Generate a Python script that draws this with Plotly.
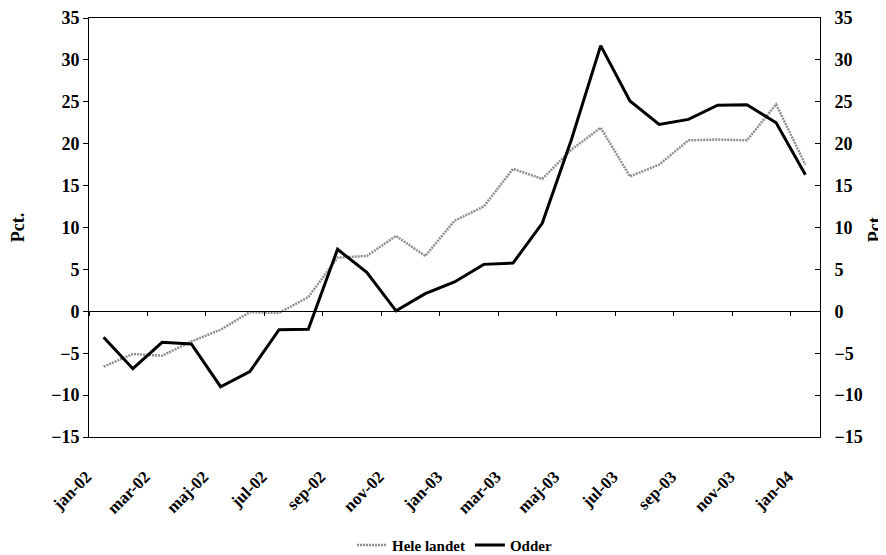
import plotly.graph_objects as go

months = ['jan-02', 'feb-02', 'mar-02', 'apr-02', 'maj-02', 'jun-02', 'jul-02', 'aug-02',
          'sep-02', 'okt-02', 'nov-02', 'dec-02', 'jan-03', 'feb-03', 'mar-03', 'apr-03',
          'maj-03', 'jun-03', 'jul-03', 'aug-03', 'sep-03', 'okt-03', 'nov-03', 'dec-03',
          'jan-04']

hele_landet = [-6.6, -5.1, -5.3, -3.6, -2.2, -0.1, -0.2, 1.7, 6.4, 6.6, 9.0, 6.6,
               10.8, 12.5, 17.0, 15.8, 19.3, 21.9, 16.1, 17.5, 20.4, 20.5, 20.4, 24.7,
               17.5]

odder = [-3.1, -6.85, -3.7, -3.9, -9.0, -7.2, -2.2, -2.15, 7.4, 4.65, 0.05, 2.1,
         3.5, 5.6, 5.75, 10.5, 20.5, 31.7, 25.1, 22.3, 22.9, 24.6, 24.65, 22.5,
         16.3]

x_ticks = months[::2]
y_range = [-15, 35]
y_dtick = 5

FONT = "Liberation Serif"

fig = go.Figure()
fig.add_trace(go.Scatter(
    x=months, y=hele_landet, name="Hele landet", mode="lines",
    line=dict(color="#8f8f8f", width=2.5, dash="2px,1px"),
    xaxis="x", yaxis="y"))
fig.add_trace(go.Scatter(
    x=months, y=odder, name="Odder", mode="lines",
    line=dict(color="#000000", width=3),
    xaxis="x2", yaxis="y2"))

zero_pos = (0 - y_range[0]) / (y_range[1] - y_range[0])
x_range = [-0.5, len(months) - 0.5]

fig.update_layout(
    width=886, height=555,
    margin=dict(l=81, r=74, t=10, b=126),
    paper_bgcolor="white", plot_bgcolor="white",
    font=dict(family=FONT, size=18, color="black"),
    showlegend=True,
    legend=dict(orientation="h", x=0.5, xanchor="center",
                yref="container", y=0.032, yanchor="middle",
                font=dict(family=FONT, size=15, color="black", weight="bold"),
                itemwidth=30, tracegroupgap=0, bgcolor="rgba(0,0,0,0)"),
    xaxis=dict(type="category", categoryorder="array", categoryarray=months,
               range=x_range, automargin=False,
               tickmode="array", tickvals=x_ticks, ticktext=x_ticks,
               tickangle=-45, ticks="", showgrid=False, zeroline=False,
               showline=True, linecolor="black", linewidth=1, mirror=True,
               ticklabelstandoff=22, ticklabelshift=-17,
               tickfont=dict(family=FONT, size=17, weight="bold"),
               anchor="y"),
    xaxis2=dict(type="category", categoryorder="array", categoryarray=months,
                overlaying="x", matches="x", anchor="free", position=zero_pos,
                automargin=False,
                showline=True, linecolor="black", linewidth=1,
                ticks="outside", tickson="boundaries", dtick=2, tick0=0,
                ticklen=4, tickcolor="black", showticklabels=False,
                showgrid=False, zeroline=False),
    yaxis=dict(range=y_range, dtick=y_dtick, tick0=0, showgrid=False, zeroline=False,
               automargin=False,
               showline=True, linecolor="black", linewidth=1,
               ticks="outside", ticklen=5, tickcolor="black",
               tickfont=dict(family=FONT, size=18, weight="bold"),
               title=dict(text="Pct.", font=dict(family=FONT, size=18, weight="bold"),
                          standoff=22)),
    yaxis2=dict(range=y_range, dtick=y_dtick, tick0=0, overlaying="y", side="right",
                showgrid=False, zeroline=False, automargin=False,
                showline=True, linecolor="black", linewidth=1,
                ticks="inside", ticklen=5, tickcolor="black",
                ticklabelstandoff=10,
                tickfont=dict(family=FONT, size=18, weight="bold"),
                title=dict(text="Pct.", font=dict(family=FONT, size=18, weight="bold"),
                           standoff=6)),
)

fig.write_html("out.html")
